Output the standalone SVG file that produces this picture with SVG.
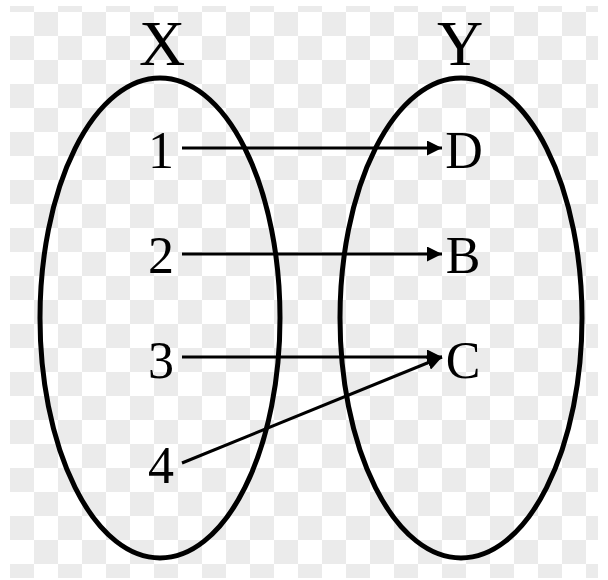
<svg xmlns="http://www.w3.org/2000/svg" width="608" height="580" viewBox="0 0 608 580">
  <style>
    .set { fill: none; stroke: #000; stroke-width: 5; }
    .lbl { font-family: "Liberation Serif", "DejaVu Serif", serif; fill: #000; text-anchor: middle; }
    .big { font-size: 64px; }
    .el { font-size: 52px; }
    .arr { stroke: #000; stroke-width: 3; fill: none; marker-end: url(#ah); }
  </style>
  <defs>
    <pattern id="chk" x="10" y="12" width="48" height="48" patternUnits="userSpaceOnUse">
      <rect x="0" y="0" width="48" height="48" fill="#ffffff"/>
      <rect x="24" y="0" width="24" height="24" fill="#ebebeb"/>
      <rect x="0" y="24" width="24" height="24" fill="#ebebeb"/>
    </pattern>
    <marker id="ah" viewBox="0 0 10 10" refX="10" refY="5" markerWidth="5" markerHeight="5" markerUnits="strokeWidth" orient="auto">
      <path d="M0,0 L10,5 L0,10 Z" fill="#000"/>
    </marker>
  </defs>
  <rect x="0" y="0" width="608" height="580" fill="#ffffff"/>
  <rect x="10" y="6" width="588" height="572" fill="url(#chk)"/>

  <g id="setX">
    <ellipse class="set" cx="160" cy="318" rx="120" ry="240"/>
    <text class="lbl big" x="162" y="65">X</text>
  </g>
  <g id="setY">
    <ellipse class="set" cx="461" cy="318" rx="121" ry="240"/>
    <text class="lbl big" x="460" y="65">Y</text>
  </g>

  <g id="n1"><text class="lbl el" x="161" y="168">1</text></g>
  <g id="n2"><text class="lbl el" x="161" y="273">2</text></g>
  <g id="n3"><text class="lbl el" x="161" y="378">3</text></g>
  <g id="n4"><text class="lbl el" x="161" y="483">4</text></g>
  <g id="nD"><text class="lbl el" x="464" y="168">D</text></g>
  <g id="nB"><text class="lbl el" x="463" y="273">B</text></g>
  <g id="nC"><text class="lbl el" x="463" y="378">C</text></g>

  <g id="connectors">
    <line class="arr" x1="182" y1="148" x2="442" y2="148"/>
    <line class="arr" x1="182" y1="254" x2="442" y2="254"/>
    <line class="arr" x1="182" y1="357" x2="442" y2="357"/>
    <line class="arr" x1="182" y1="463" x2="442" y2="357"/>
  </g>
</svg>
